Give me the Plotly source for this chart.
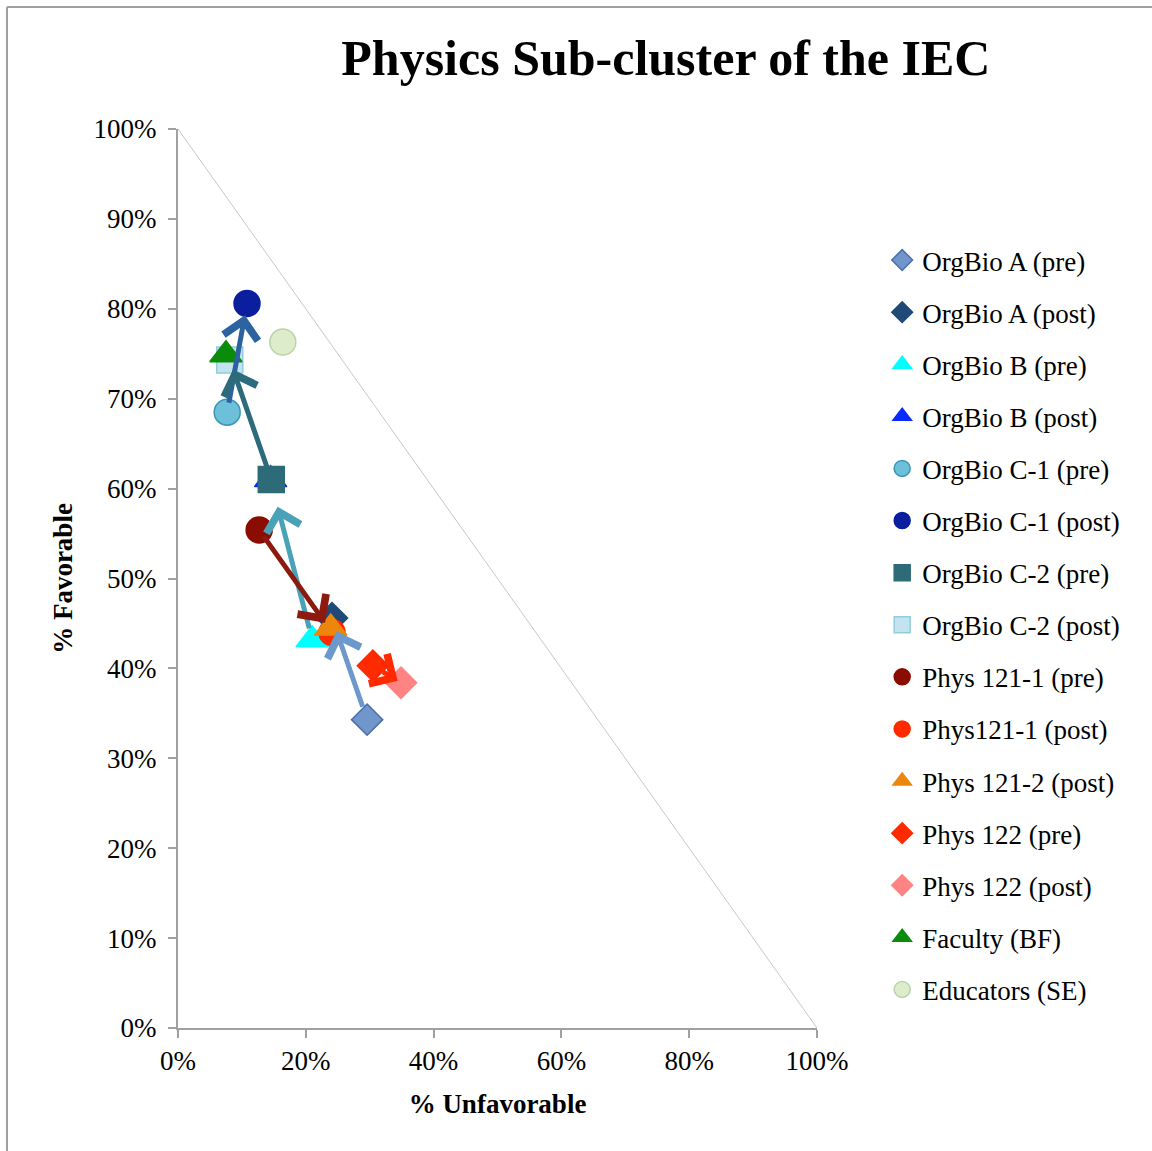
import plotly.graph_objects as go

# ---------------- data ----------------
names = ["OrgBio A (pre)", "OrgBio A (post)", "OrgBio B (pre)", "OrgBio B (post)",
         "OrgBio C-1 (pre)", "OrgBio C-1 (post)", "OrgBio C-2 (pre)", "OrgBio C-2 (post)",
         "Phys 121-1 (pre)", "Phys121-1 (post)", "Phys 121-2 (post)",
         "Phys 122 (pre)", "Phys 122 (post)", "Faculty (BF)", "Educators (SE)"]
unfavorable = [0.296, 0.241, 0.210, 0.145, 0.077, 0.108, 0.146, 0.081,
               0.127, 0.241, 0.239, 0.305, 0.349, 0.075, 0.164]
favorable = [0.343, 0.456, 0.432, 0.610, 0.685, 0.806, 0.610, 0.743,
             0.554, 0.440, 0.445, 0.403, 0.384, 0.749, 0.763]

# arrows: (from index, to index)
arrow_pairs = [(0, 1), (2, 3), (4, 5), (6, 7), (8, 9), (11, 12)]

diag_x = [0, 1]
diag_y = [1, 0]

x_ticks = [0, 0.2, 0.4, 0.6, 0.8, 1.0]
y_ticks = [0, 0.1, 0.2, 0.3, 0.4, 0.5, 0.6, 0.7, 0.8, 0.9, 1.0]

# ---------------- styles ----------------
symbols = ["diamond", "diamond", "triangle-up", "triangle-up", "circle", "circle",
           "square", "square", "circle", "circle", "triangle-up",
           "diamond", "diamond", "triangle-up", "circle"]
fills = ["#7196CB", "#1F4A78", "#00FFFF", "#0A2BFF", "#6CC0D9", "#0A1E9E",
         "#2D6B79", "#C3E4EF", "#8B0C00", "#FF2A00", "#EC870C",
         "#FF2A00", "#FF8383", "#0A8C0A", "#DDEDCC"]
edges = ["#4A6FA8", "#1F4A78", "#00FFFF", "#0A2BFF", "#3B95B2", "#0A1E9E",
         "#2D6B79", "#93CCDE", "#8B0C00", "#FF2A00", "#EC870C",
         "#FF2A00", "#FF8383", "#0A8C0A", "#BBD3A6"]
sizes = [24, 24, 28, 28, 26, 26, 26, 26, 26, 26, 28, 24, 24, 28, 26]
arrow_colors = ["#6C98CC", "#4AA2B8", "#2D62A0", "#2C6B7C", "#8C1A0E", "#FF2A00"]
arrow_standoffs = [14, 28, 12, 10, 12, 4]
arrow_startstandoffs = [12, 10, 8, 12, 6, 10]

FONT = "Liberation Serif"
AXIS_COLOR = "#A0A0A0"

fig = go.Figure()

fig.add_trace(go.Scatter(x=diag_x, y=diag_y, mode="lines",
                         line=dict(color="#C8C8C8", width=1),
                         showlegend=False, hoverinfo="skip"))

for i, n in enumerate(names):
    fig.add_trace(go.Scatter(
        x=[unfavorable[i]], y=[favorable[i]], mode="markers", name=n,
        legendgroup=n,
        marker=dict(symbol=symbols[i], size=sizes[i], color=fills[i],
                    line=dict(color=edges[i], width=1.5)),
    ))

for k, (a, b) in enumerate(arrow_pairs):
    fig.add_annotation(
        x=unfavorable[b], y=favorable[b], ax=unfavorable[a], ay=favorable[a],
        xref="x", yref="y", axref="x", ayref="y", text="",
        showarrow=True, arrowhead=4, arrowsize=1.35, arrowwidth=5,
        arrowcolor=arrow_colors[k], standoff=arrow_standoffs[k],
        startstandoff=arrow_startstandoffs[k],
    )

# outer frame (top and left)
fig.add_shape(type="line", xref="paper", yref="paper",
              x0=-0.2676, x1=-0.2676, y0=1.1357, y1=-0.15,
              line=dict(color=AXIS_COLOR, width=2))
fig.add_shape(type="line", xref="paper", yref="paper",
              x0=-0.2676, x1=1.55, y0=1.1357, y1=1.1357,
              line=dict(color=AXIS_COLOR, width=2))

axis_common = dict(showline=True, linecolor=AXIS_COLOR, linewidth=2,
                   ticks="outside", ticklen=8, tickcolor=AXIS_COLOR, tickwidth=2,
                   showgrid=False, zeroline=False, tickformat=".0%",
                   tickfont=dict(family=FONT, size=27, color="#000000"),
                   range=[0, 1], fixedrange=True)

fig.update_layout(
    width=1152, height=1151,
    margin=dict(l=178, r=335, t=129, b=123, autoexpand=False),
    paper_bgcolor="white", plot_bgcolor="white",
    title=dict(text="Physics Sub-cluster of the IEC", x=0.578, xanchor="center",
               y=1 - 57 / 1151, yanchor="middle",
               font=dict(family=FONT, size=50, color="#000000", weight="bold")),
    xaxis=dict(**axis_common, tickvals=x_ticks,
               title=dict(text="% Unfavorable", standoff=19,
                          font=dict(family=FONT, size=27, color="#000000", weight="bold"))),
    yaxis=dict(**axis_common, tickvals=y_ticks, ticklabelstandoff=6,
               title=dict(text="% Favorable", standoff=13,
                          font=dict(family=FONT, size=27, color="#000000", weight="bold"))),
    legend=dict(x=1.102, y=0.881, xanchor="left", yanchor="top",
                font=dict(family=FONT, size=27, color="#000000"),
                tracegroupgap=14, bgcolor="rgba(0,0,0,0)"),
    showlegend=True,
)

fig.write_html("out.html")
